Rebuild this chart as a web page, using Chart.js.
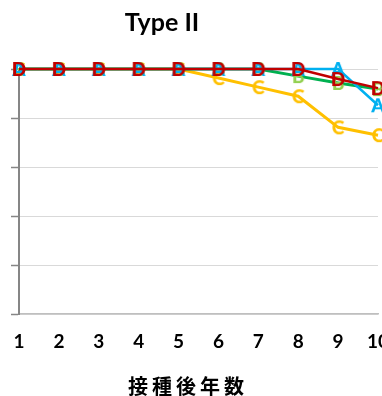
<!DOCTYPE html>
<html>
<head>
<meta charset="utf-8">
<script src="https://cdn.jsdelivr.net/npm/chart.js@4/dist/chart.umd.min.js"></script>
<style>
  body { margin: 0; background: #fff; }
  #wrap { position: relative; width: 382px; height: 396px; overflow: hidden; }
  #chartTitle { position: absolute; left: 0; top: 6px; width: 324px; text-align: center; font: bold 25px Lato, sans-serif; line-height: normal; color: #000; }
  #axisTitle { position: absolute; left: 128px; top: 376px; font: bold 20px "Noto Sans CJK JP", sans-serif; line-height: 1; letter-spacing: 4px; color: #000; white-space: nowrap; }
  canvas { position: absolute; left: 0; top: 0; }
</style>
</head>
<body>
<div id="wrap">
  <canvas id="typeChart" width="400" height="396"></canvas>
  <div id="chartTitle">Type II</div>
  <div id="axisTitle">接種後年数</div>
</div>
<script>
const years = ["1", "2", "3", "4", "5", "6", "7", "8", "9", "10"];

const seriesA = [100, 100, 100, 100, 100, 100, 100, 100, 100, 85.2];
const seriesB = [100, 100, 100, 100, 100, 100, 100, 97.1, 94.3, 91.8];
const seriesC = [100, 100, 100, 100, 100, 96.3, 92.6, 88.9, 76.2, 73.0];
const seriesD = [100, 100, 100, 100, 100, 100, 100, 100, 95.9, 92.2];

// small canvases with the letter, used as point markers
function letterMarker(letter, color) {
    const c = document.createElement("canvas");
    c.width = 18;
    c.height = 20;
    const ctx = c.getContext("2d");
    ctx.font = "900 19px Lato";
    ctx.fillStyle = color;
    ctx.textAlign = "center";
    ctx.textBaseline = "alphabetic";
    ctx.fillText(letter, 9, 16.8);
    return c;
}

function makeSet(label, data, lineColor, letterColor, width, order) {
    return {
        label: label,
        data: data,
        borderColor: lineColor,
        backgroundColor: lineColor,
        borderWidth: width,
        pointStyle: letterMarker(label, letterColor),
        pointRadius: 5,
        tension: 0,
        clip: false,
        order: order
    };
}

const lineData = {
    labels: years,
    datasets: [
        makeSet("A", seriesA, "#00B0F0", "#00B0F0", 2.5, 1),
        makeSet("B", seriesB, "#00B050", "#92D050", 3, 2),
        makeSet("C", seriesC, "#FFC000", "#FFC000", 3, 3),
        makeSet("D", seriesD, "#C00000", "#C00000", 2.5, 0)
    ]
};

const lineConfig = {
    type: "line",
    data: lineData,
    options: {
        responsive: false,
        animation: false,
        layout: { padding: { left: 11, right: 22, top: 69, bottom: 26 } },
        plugins: {
            legend: { display: false },
            tooltip: { enabled: false }
        },
        scales: {
            x: {
                offset: false,
                grid: { display: false, drawTicks: false },
                border: { display: true, color: "#BFBFBF", width: 1.5 },
                ticks: {
                    padding: 3,
                    color: "#000",
                    font: { family: "Lato", weight: "bold", size: 19, lineHeight: 2.63 },
                    maxRotation: 0,
                    autoSkip: false
                }
            },
            y: {
                min: 0,
                max: 100,
                ticks: { stepSize: 20, display: false },
                grid: { color: "#D9D9D9", lineWidth: 1, tickLength: 8, tickColor: "#868686", tickWidth: 1.5 },
                border: { display: true, color: "#868686", width: 2 }
            }
        }
    }
};

const typeChart = new Chart(document.getElementById("typeChart"), lineConfig);
</script>
</body>
</html>
